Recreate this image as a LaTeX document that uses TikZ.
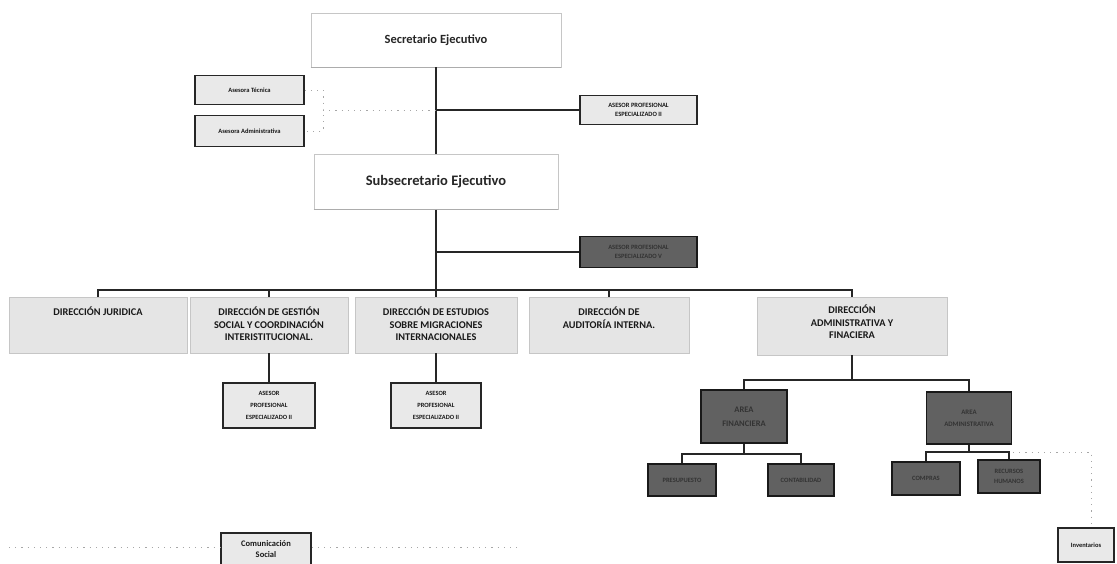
\documentclass[tikz,border=0pt]{standalone}
\usepackage{fontspec}
\setmainfont{Carlito}
\begin{document}
\begin{tikzpicture}[x=1pt,y=-1pt,
  topbox/.style={draw=gray!45,line width=0.6pt,fill=white,inner sep=0pt,font=\bfseries,text=black!85},
  lbox/.style={draw=black!85,line width=1.3pt,fill=gray!17,inner sep=0pt,align=center,font=\bfseries\fontsize{6.5}{9.5}\selectfont,text=black!90},
  dbox/.style={draw=black!90,line width=1.4pt,fill=black!62,inner sep=0pt,align=center,font=\bfseries\fontsize{6.5}{9.5}\selectfont,text=black!80},
  dirbox/.style={draw=gray!45,line width=0.5pt,fill=gray!20,inner sep=0pt},
  dirtext/.style={anchor=north,inner sep=0pt,align=center,font=\bfseries\fontsize{10.3}{12.6}\selectfont,text=black!90},
  tree/.style={line width=1.1pt,draw=black!85},
  dots/.style={line width=1pt,draw=gray!70,dash pattern=on 1.2pt off 5pt}
]
\useasboundingbox (0,0) rectangle (1117,563);

% top level
\node[topbox,minimum width=250pt,minimum height=54pt,font=\bfseries\fontsize{12.5}{14}\selectfont] (sec) at (436,40) {Secretario Ejecutivo};
\node[topbox,minimum width=244pt,minimum height=55pt,font=\bfseries\fontsize{14.5}{16}\selectfont] (sub) at (436,182) {Subsecretario Ejecutivo};
\draw[gray!65,line width=0.8pt] (sec.south west) -- (sec.south east);
\draw[gray!65,line width=0.8pt] (sub.south west) -- (sub.south east);

% advisors
\node[lbox,minimum width=109pt,minimum height=29pt] (at) at (249.5,90) {Asesora Técnica};
\node[lbox,minimum width=109pt,minimum height=31pt] (aad) at (249.5,131) {Asesora Administrativa};
\node[lbox,minimum width=117pt,minimum height=29pt] (ape1) at (638.5,110) {ASESOR PROFESIONAL\\ESPECIALIZADO II};
\node[dbox,minimum width=117pt,minimum height=31pt] (ape2) at (638.5,252) {ASESOR PROFESIONAL\\ESPECIALIZADO V};

\coordinate (j1) at (436,110);
\coordinate (j2) at (436,252);
\coordinate (dv) at (323,110);

\draw[tree] (sec.south) -- (sub.north);
\draw[tree] (j1) -- (ape1.west);
\draw[dots] (at.east) -| (dv) |- (aad.east);
\draw[dots] (dv) -- (j1);

% directions
\node[dirbox,minimum width=178pt,minimum height=56pt] (d1) at (98,325) {};
\node[dirbox,minimum width=158pt,minimum height=56pt] (d2) at (269,325) {};
\node[dirbox,minimum width=162pt,minimum height=56pt] (d3) at (436,325) {};
\node[dirbox,minimum width=160pt,minimum height=56pt] (d4) at (609,325) {};
\node[dirbox,minimum width=190pt,minimum height=58pt] (d5) at (852,326) {};

\node[dirtext] (t1) at ([yshift=-10pt]d1.north) {DIRECCIÓN JURIDICA};
\node[dirtext] (t2) at ([yshift=-10pt]d2.north) {DIRECCIÓN DE GESTIÓN\\SOCIAL Y COORDINACIÓN\\INTERISTITUCIONAL.};
\node[dirtext] (t3) at ([yshift=-10pt]d3.north) {DIRECCIÓN DE ESTUDIOS\\SOBRE MIGRACIONES\\INTERNACIONALES};
\node[dirtext] (t4) at ([yshift=-10pt]d4.north) {DIRECCIÓN DE\\AUDITORÍA INTERNA.};
\node[dirtext] (t5) at ([yshift=-8pt]d5.north) {DIRECCIÓN\\ADMINISTRATIVA Y\\FINACIERA};

\coordinate (bus) at (436,290);
\draw[tree] (sub.south) -- (d3.north);
\draw[tree] (j2) -- (ape2.west);
\draw[tree] (d1.north) |- (bus) -| (d5.north);
\draw[tree] (bus) -| (d2.north);
\draw[tree] (bus) -| (d4.north);

% advisors under directions
\node[lbox,minimum width=92pt,minimum height=45pt,font=\bfseries\fontsize{6.4}{12}\selectfont] (as2) at (269,405.5) {ASESOR\\PROFESIONAL\\ESPECIALIZADO II};
\node[lbox,minimum width=90pt,minimum height=45pt,font=\bfseries\fontsize{6.4}{12}\selectfont] (as3) at (436,405.5) {ASESOR\\PROFESIONAL\\ESPECIALIZADO II};
\draw[tree] (d2.south) -- (as2.north);
\draw[tree] (d3.south) -- (as3.north);

% administrative & financial areas
\node[dbox,minimum width=86pt,minimum height=53pt,font=\bfseries\fontsize{8.5}{14}\selectfont] (af) at (744,416.5) {AREA\\FINANCIERA};
\node[dbox,minimum width=85pt,minimum height=52pt,font=\bfseries\fontsize{6.8}{12}\selectfont] (aa2) at (969,418) {AREA\\ADMINISTRATIVA};
\coordinate (b5) at (852,380);
\draw[tree] (d5.south) -- (b5);
\draw[tree] (af.north) |- (b5) -| (aa2.north);

\node[dbox,minimum width=68pt,minimum height=32pt] (pres) at (682,480) {PRESUPUESTO};
\node[dbox,minimum width=66pt,minimum height=32pt] (cont) at (801,480) {CONTABILIDAD};
\coordinate (bf) at (744,454);
\draw[tree] (af.south) -- (bf);
\draw[tree] (pres.north) |- (bf) -| (cont.north);

\node[dbox,minimum width=68pt,minimum height=33pt] (comp) at (926,478.5) {COMPRAS};
\node[dbox,minimum width=62pt,minimum height=33pt] (rh) at (1009,476.5) {RECURSOS\\HUMANOS};
\coordinate (ba) at (969,452);
\coordinate (bae) at (1013,452);
\draw[tree] (aa2.south) -- (ba);
\draw[tree] (comp.north) |- (ba) -| (rh.north);

% Inventarios
\node[lbox,minimum width=56pt,minimum height=34pt] (inv) at (1086,545) {Inventarios};
\coordinate (ic) at (1091,452);
\draw[dots] (bae) -- (ic) -- (ic |- inv.north);

% Comunicacion social
\node[lbox,minimum width=90pt,minimum height=33pt,font=\bfseries\fontsize{8.5}{11}\selectfont] (com) at (266,549.5) {Comunicación\\Social};
\coordinate (cl) at (9,547);
\coordinate (cr) at (521,547);
\draw[dots] (cl) -- (cl -| com.west);
\draw[dots] (cr -| com.east) -- (cr);
\end{tikzpicture}
\end{document}
